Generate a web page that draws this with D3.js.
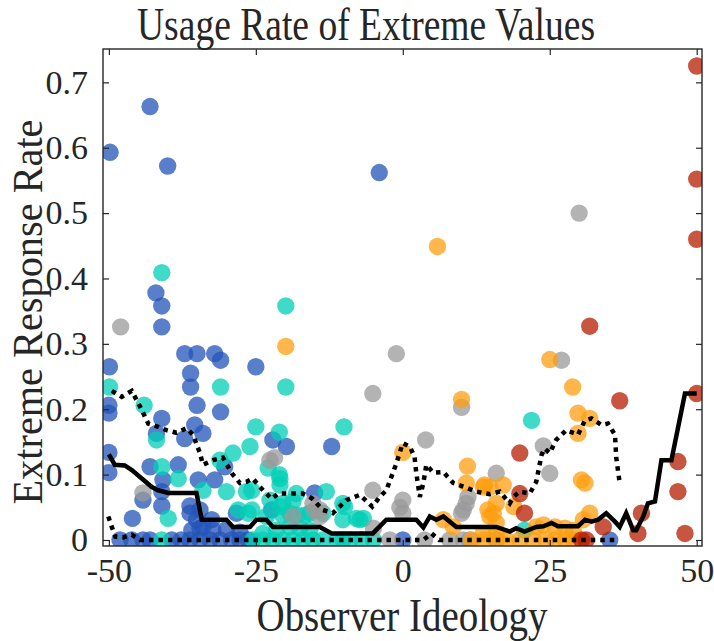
<!DOCTYPE html>
<html>
<head>
<meta charset="utf-8">
<title>Usage Rate of Extreme Values</title>
<style>
  body{margin:0;background:#fff;}
  svg text{font-family:"Liberation Serif","Times New Roman",serif;fill:#262626;}
</style>
</head>
<body>
<svg id="chart" width="714" height="641"></svg>
<script src="https://cdn.jsdelivr.net/npm/d3@7"></script>
<script>

// ---- data ----
var xTicks = [-50, -25, 0, 25, 50];
var xTickLabels = ["-50", "-25", "0", "25", "50"];
var yTicks = [0, 0.1, 0.2, 0.3, 0.4, 0.5, 0.6, 0.7];
var yTickLabels = ["0", "0.1", "0.2", "0.3", "0.4", "0.5", "0.6", "0.7"];

var bluePts = [
  [-49.8,0.593],[-43,0.663],[-40,0.572],[-4,0.562],
  [-42,0.378],[-41,0.358],[-41,0.326],
  [-37.1,0.285],[-35,0.285],[-32,0.285],[-31,0.275],
  [-25,0.265],[-49.9,0.265],[-36.1,0.255],[-36.1,0.234],
  [-50,0.206],[-50,0.194],[-35,0.206],[-31,0.196],
  [-41,0.186],[-41.9,0.163],[-37.1,0.155],[-35.4,0.176],[-34,0.163],
  [-22.1,0.153],[-19.8,0.143],[-12.1,0.143],
  [-50,0.134],[-50,0.103],[-43,0.112],[-38.2,0.115],[-40.8,0.092],[-30.3,0.112],[-34.8,0.092],[-32,0.092],
  [-44.2,0.061],[-41,0.074],[-41,0.052],[-36.2,0.052],[-36.2,0.041],[-34.5,0.046],[-46,0.033],[-35.1,0.031],[-32.5,0.031],[-28.3,0.041],
  [-35.9,0.015],[-34.5,0.018],[-32.3,0.015],[-30,0.016],[-27.7,0.012],[-34,0.02],
  [-22.3,0.046],[-15,0.072],
  [-48.1,0],[-46.1,0],[-44.2,0],[-43,0],[-39.3,0],[-37.7,0],[-36.2,0],[-34.5,0],
  [-32.8,0],[-31.1,0],[-29.1,0],[-27.7,0],[-26.3,0],[0,0],[35.2,0]
];

var tealPts = [
  [-41,0.409],[-19.9,0.358],[-19.9,0.234],[-49.9,0.234],[-31,0.234],[-44,0.206],
  [-41.9,0.153],[-25,0.173],[-26,0.143],[-21,0.165],[-10,0.173],
  [-41,0.112],[-38.2,0.094],[-31.1,0.122],[-28.9,0.133],[-34,0.076],[-30,0.074],[-26.6,0.074],
  [-39.9,0.033],[-28,0.046],[-26.3,0.041],
  [-22.9,0.11],[-20.9,0.094],[-20.9,0.084],[-21,0.1],[-25.7,0.076],
  [-22.6,0.061],[-20.4,0.056],[-18.7,0.059],[-13,0.074],[-9.9,0.051],[-7.9,0.033],[-6.7,0.033],
  [-23.2,0.036],[-20.4,0.038],[-18,0.038],[-16.7,0.038],
  [-19.2,0.02],[-17.5,0.018],[-15.8,0.015],
  [-18.1,0.071],[-10.2,0.056],[-10.2,0.031],[-7.3,0.031],[-15.8,0.041],[-13.6,0.041],
  [-25.7,0.046],[-20.9,0.051],[-19.2,0.041],[-23.8,0.01],[-21.5,0.015],
  [21.9,0.183],[20.7,0.015],
  [-41,0],[-25.5,0],[-23.8,0],[-22.1,0],[-20.4,0],[-18.7,0],[-17,0],[-15.3,0],
  [-13.6,0],[-11.2,0],[-10.2,0],[-9,0],[-7,0],[-5,0]
];

var grayPts = [
  [-48,0.326],[30,0.5],[-1.1,0.285],[-5.1,0.224],[10,0.203],[27,0.275],
  [3.9,0.153],[23.9,0.144],[25,0.102],[15.9,0.102],
  [-22.6,0.122],[-21.8,0.126],[-44.2,0.072],
  [-15.3,0.056],[-14.1,0.046],[-15,0.046],[-14.1,0.036],[-18.7,0.036],
  [-5.1,0.076],[-5,0.018],[-0.5,0.05],[0,0.061],[0,0.041],
  [11.1,0.066],[10,0.041],[10.8,0.056],[10.3,0.046],
  [-2.2,0],[3.7,0],[8,0],[10.3,0],[11.4,0],[15.9,0]
];

var orangePts = [
  [-19.9,0.296],[5.9,0.449],[10,0.215],[25,0.276],[28.9,0.234],
  [29.8,0.194],[31.8,0.186],[29.8,0.163],[0,0.134],[11,0.113],
  [30.4,0.092],[31,0.087],
  [10.8,0.087],[13.9,0.084],[14.8,0.081],[17.1,0.084],[13.7,0.081],
  [15.9,0.056],[14.5,0.046],[15.4,0.041],[18.9,0.051],
  [6.9,0.031],[8.6,0.02],[14.8,0.036],[15.9,0.026],[22.7,0.02],[23.9,0.023],
  [31.8,0.041],[30.7,0.031],[25.9,0.02],[27.6,0.018],[29,0.015],
  [13.7,0.01],[15.9,0.01],
  [11.7,0],[13.9,0],[15.9,0],[17.6,0],[19.9,0],[22.2,0],[24.4,0],[25.9,0],[27.6,0],[29,0]
];

var redPts = [
  [50,0.725],[50,0.552],[50,0.46],[50,0.224],[31.8,0.327],[36.9,0.213],
  [19.9,0.133],[46.8,0.12],[46.8,0.074],[19.9,0.071],[20.7,0.041],
  [40.6,0.041],[40,0.01],[48,0.01],[34.1,0.02],
  [30.4,0],[31.2,0]
];

// running median (solid) and quantile bands (dotted)
var medianLine = [
  [-50,0.131],[-49,0.115],[-47.3,0.114],[-46.1,0.107],[-44.4,0.094],[-42.7,0.081],[-41.6,0.076],
  [-39.9,0.072],[-35.1,0.072],[-34.2,0.031],[-30,0.031],[-28.9,0.02],[-26,0.02],[-24.9,0.031],
  [-23.2,0.031],[-22.1,0.02],[-14.1,0.02],[-12.1,0.01],[-5.1,0.01],[-2.8,0.031],[2.3,0.031],
  [3.5,0.019],[4.6,0.036],[5.7,0.031],[6.9,0.036],[9.1,0.02],[15.9,0.02],[18.2,0.013],
  [19.3,0.018],[20.7,0.013],[22.7,0.02],[23.9,0.021],[25.3,0.026],[26.4,0.021],[29.8,0.021],
  [31,0.031],[32.1,0.028],[33.2,0.031],[34.6,0.041],[36.1,0.028],[36.9,0.02],[38,0.041],
  [39.2,0.015],[39.7,0.015],[40.9,0.036],[41.7,0.056],[42.9,0.059],[44,0.122],[45.7,0.122],
  [48,0.224],[50,0.224]
];

var upperLine = [
  [-49.5,0.228],[-47.8,0.219],[-46.1,0.228],[-44.7,0.204],[-43.3,0.178],[-41.6,0.173],
  [-40.2,0.168],[-38.5,0.164],[-36.8,0.171],[-35.7,0.161],[-34.5,0.133],[-34,0.115],
  [-32.3,0.122],[-30.6,0.126],[-29.1,0.102],[-27.7,0.087],[-26.6,0.089],[-25.5,0.094],
  [-24.3,0.081],[-22.3,0.063],[-21.2,0.071],[-17,0.071],[-15.5,0.064],[-13.6,0.046],
  [-11.9,0.041],[-9.6,0.061],[-7.3,0.069],[-5.2,0.051],[-3.9,0.066],[-2.8,0.076],
  [-1.1,0.117],[0,0.148],[1.2,0.143],[2,0.127],[2.3,0.102],[2.9,0.066],[3.5,0.087],
  [4,0.115],[5.2,0.103],[6.9,0.104],[8.6,0.087],[10.8,0.08],[12.5,0.074],[14.8,0.07],
  [16.5,0.074],[18.2,0.056],[18.8,0.066],[19.9,0.074],[21.6,0.071],[22.7,0.089],
  [23.6,0.13],[24.1,0.14],[25,0.133],[26.1,0.153],[27.8,0.168],[29.8,0.161],[31,0.183],
  [32.1,0.186],[33.8,0.176],[34.9,0.178],[36.1,0.161],[36.3,0.127],[36.9,0.087]
];

var lowerLine = [
  [-50.1,0.036],[-49.5,0.02],[-48.9,0.005],[-47.6,0.004],[-46.1,0.008],[-44.7,0],
  [3.5,0],[4.9,0.01],[6.2,0],[36.2,0]
];

// ---- layout ----
var width = 714, height = 641;
var plotL = 103, plotR = 702, plotT = 49, plotB = 546;

var x = d3.scaleLinear().domain([-51, 50.9]).range([plotL, plotR]);
var y = d3.scaleLinear().domain([-0.0092, 0.751]).range([plotB, plotT]);

var svg = d3.select('#chart');

var groups = [
  {pts: bluePts,   color: '#2354b8'},
  {pts: tealPts,   color: '#00cfb5'},
  {pts: grayPts,   color: '#999999'},
  {pts: orangePts, color: '#ff9e0f'},
  {pts: redPts,    color: '#b51c00'}
];

svg.append('clipPath').attr('id', 'plotclip')
  .append('rect')
  .attr('x', plotL).attr('y', plotT)
  .attr('width', plotR - plotL).attr('height', plotB - plotT);

var marks = svg.append('g').attr('clip-path', 'url(#plotclip)');

groups.forEach(function(g){
  marks.append('g')
    .selectAll('circle')
    .data(g.pts)
    .enter().append('circle')
    .attr('cx', function(d){ return x(d[0]); })
    .attr('cy', function(d){ return y(d[1]); })
    .attr('r', 8.7)
    .attr('fill', g.color)
    .attr('fill-opacity', 0.75);
});

var line = d3.line()
  .x(function(d){ return x(d[0]); })
  .y(function(d){ return y(d[1]); });

// dotted bands
[lowerLine, upperLine].forEach(function(band){
  marks.append('path')
    .datum(band)
    .attr('d', line)
    .attr('fill', 'none')
    .attr('stroke', '#000')
    .attr('stroke-width', 4.5)
    .attr('stroke-dasharray', '4.5,5');
});

marks.append('path')
  .datum(medianLine)
  .attr('d', line)
  .attr('fill', 'none')
  .attr('stroke', '#000')
  .attr('stroke-width', 4.5);

// ---- axes (inward ticks on all four sides, boxed) ----
var axisColor = '#262626';

svg.append('g')
  .attr('transform', 'translate(0,' + plotB + ')')
  .call(d3.axisBottom(x).tickValues(xTicks)
    .tickFormat(function(d, i){ return xTickLabels[i]; })
    .tickSize(-6).tickSizeOuter(0).tickPadding(12));

svg.append('g')
  .attr('transform', 'translate(' + plotL + ',0)')
  .call(d3.axisLeft(y).tickValues(yTicks)
    .tickFormat(function(d, i){ return yTickLabels[i]; })
    .tickSize(-6).tickSizeOuter(0).tickPadding(15));

svg.append('g')
  .attr('transform', 'translate(0,' + plotT + ')')
  .call(d3.axisTop(x).tickValues(xTicks).tickFormat('').tickSize(-6).tickSizeOuter(0));

svg.append('g')
  .attr('transform', 'translate(' + plotR + ',0)')
  .call(d3.axisRight(y).tickValues(yTicks).tickFormat('').tickSize(-6).tickSizeOuter(0));

svg.selectAll('.domain').remove();
svg.selectAll('.tick line').attr('stroke', axisColor).attr('stroke-width', 1.2);
svg.selectAll('.tick text')
  .attr('fill', axisColor)
  .style('font-size', '34px')
  .style('font-family', '"Liberation Serif","Times New Roman",serif');

svg.append('rect')
  .attr('x', plotL).attr('y', plotT)
  .attr('width', plotR - plotL).attr('height', plotB - plotT)
  .attr('fill', 'none')
  .attr('stroke', axisColor)
  .attr('stroke-width', 1.4);

// ---- labels (the reference font runs a little condensed) ----
svg.append('text')
  .attr('x', 366).attr('y', 40)
  .attr('text-anchor', 'middle')
  .attr('textLength', 458)
  .attr('lengthAdjust', 'spacingAndGlyphs')
  .style('font-size', '46px')
  .text('Usage Rate of Extreme Values');

svg.append('text')
  .attr('x', 402).attr('y', 631)
  .attr('text-anchor', 'middle')
  .attr('textLength', 291)
  .attr('lengthAdjust', 'spacingAndGlyphs')
  .style('font-size', '47px')
  .text('Observer Ideology');

svg.append('text')
  .attr('transform', 'translate(42,312) rotate(-90)')
  .attr('text-anchor', 'middle')
  .attr('textLength', 385)
  .attr('lengthAdjust', 'spacingAndGlyphs')
  .style('font-size', '42px')
  .text('Extreme Response Rate');

</script>
</body>
</html>
